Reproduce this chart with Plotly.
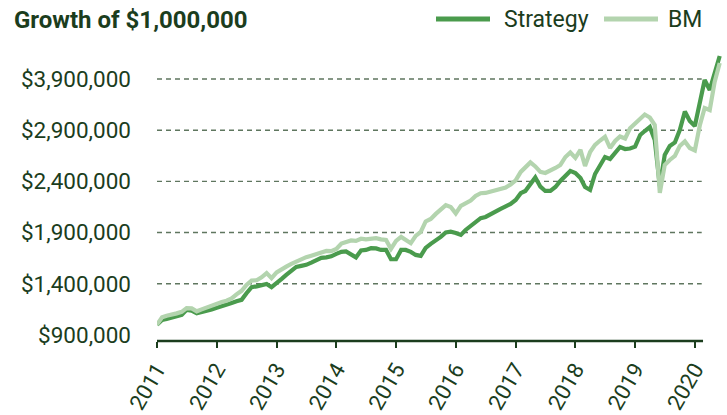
import plotly.graph_objects as go
import pandas as pd

# Monthly observations, Jan 2011 - Jun 2020 (values in $ thousands)
months = pd.date_range("2011-01-01", periods=114, freq="MS").strftime("%Y-%m-%d").tolist()

strategy_k = [
    1000, 1046, 1056, 1071, 1086, 1095, 1144, 1137, 1110, 1120, 1134, 1149,
    1164, 1178, 1188, 1212, 1229, 1242, 1307, 1366, 1374, 1383, 1398, 1366,
    1413, 1447, 1486, 1530, 1564, 1574, 1584, 1606, 1630, 1652, 1657, 1667,
    1691, 1711, 1715, 1681, 1657, 1725, 1730, 1747, 1745, 1730, 1730, 1639,
    1639, 1730, 1730, 1711, 1681, 1672, 1750, 1789, 1818, 1857, 1901, 1909,
    1896, 1877, 1925, 1962, 1999, 2041, 2052, 2082, 2111, 2131, 2155, 2179,
    2218, 2284, 2306, 2375, 2438, 2348, 2306, 2306, 2345, 2404, 2453, 2502,
    2482, 2433, 2345, 2316, 2472, 2550, 2638, 2619, 2677, 2736, 2716, 2721,
    2739, 2853, 2892, 2931, 2804, 2355, 2658, 2746, 2780, 2902, 3083, 2990,
    2941, 3175, 3390, 3293, 3459, 3625,
]

bm_k = [
    1000, 1071, 1086, 1095, 1110, 1125, 1161, 1159, 1130, 1149, 1169, 1188,
    1208, 1222, 1234, 1256, 1296, 1330, 1388, 1430, 1434, 1462, 1503, 1454,
    1510, 1545, 1567, 1593, 1618, 1639, 1659, 1674, 1691, 1701, 1720, 1718,
    1740, 1793, 1811, 1823, 1818, 1839, 1833, 1838, 1844, 1833, 1828, 1740,
    1818, 1857, 1833, 1796, 1867, 1906, 2008, 2033, 2082, 2126, 2168, 2150,
    2087, 2160, 2184, 2212, 2257, 2284, 2287, 2301, 2311, 2326, 2340, 2370,
    2409, 2492, 2536, 2585, 2546, 2492, 2482, 2502, 2531, 2560, 2638, 2682,
    2629, 2707, 2550, 2687, 2756, 2799, 2836, 2726, 2795, 2838, 2819, 2919,
    2970, 3012, 3053, 3024, 2951, 2287, 2560, 2609, 2648, 2746, 2790, 2726,
    2702, 2951, 3117, 3097, 3371, 3556,
]

strategy = [v * 1000 for v in strategy_k]
bm = [v * 1000 for v in bm_k]

year_ticks = [f"{y}-01-01" for y in range(2011, 2021)]
year_labels = [str(y) for y in range(2011, 2021)]

y_tickvals = [900000, 1400000, 1900000, 2400000, 2900000, 3400000]
y_ticktext = ["$900,000", "$1,400,000", "$1,900,000", "$2,400,000", "$2,900,000", "$3,900,000"]

STRAT_COLOR = "#4a9b4d"
BM_COLOR = "#b3d4ae"
TEXT_COLOR = "#1b3d1d"
GRID_COLOR = "#5f765f"
FONT = "Roboto"

W, H = 727, 415
L, R, T, B = 157, 5, 48, 74
PW, PH = W - L - R, H - T - B


def px_x(px):
    return (px - L) / PW


def px_y(py):
    return (H - B - py) / PH


fig = go.Figure()
fig.add_trace(go.Scatter(x=months, y=strategy, mode="lines", name="Strategy",
                         line=dict(color=STRAT_COLOR, width=4.2), showlegend=False))
fig.add_trace(go.Scatter(x=months, y=bm, mode="lines", name="BM",
                         line=dict(color=BM_COLOR, width=4.2), showlegend=False))

shapes = []
grid_end = "2020-02-12"
for v in y_tickvals[1:]:
    shapes.append(dict(type="line", xref="x", yref="y", x0=year_ticks[0], x1=grid_end,
                       y0=v, y1=v, layer="below",
                       line=dict(color=GRID_COLOR, width=1.4, dash="5px,4px")))
# x axis baseline
shapes.append(dict(type="line", xref="x", yref="paper", x0=year_ticks[0], x1="2020-02-20",
                   y0=0, y1=0, line=dict(color=TEXT_COLOR, width=2.5)))

# custom legend
leg_y = px_y(19)
shapes.append(dict(type="line", xref="paper", yref="paper", x0=px_x(436), x1=px_x(490),
                   y0=leg_y, y1=leg_y, line=dict(color=STRAT_COLOR, width=5)))
shapes.append(dict(type="line", xref="paper", yref="paper", x0=px_x(604), x1=px_x(658),
                   y0=leg_y, y1=leg_y, line=dict(color=BM_COLOR, width=5)))

annotations = [
    dict(text="Strategy", xref="paper", yref="paper", x=px_x(502), y=leg_y,
         xanchor="left", yanchor="middle", showarrow=False,
         font=dict(family=FONT, size=23, color=TEXT_COLOR)),
    dict(text="BM", xref="paper", yref="paper", x=px_x(666), y=leg_y,
         xanchor="left", yanchor="middle", showarrow=False,
         font=dict(family=FONT, size=23, color=TEXT_COLOR)),
]

fig.update_layout(
    width=W, height=H,
    margin=dict(l=L, r=R, t=T, b=B),
    paper_bgcolor="white", plot_bgcolor="white",
    title=dict(text="Growth of $1,000,000", xref="container", yref="container",
               x=14 / W, y=1 - 20 / H, xanchor="left", yanchor="middle",
               font=dict(family=FONT, size=24, color=TEXT_COLOR, weight="bold")),
    shapes=shapes,
    annotations=annotations,
    xaxis=dict(type="date", range=["2011-01-01", "2020-06-15"], automargin=False,
               tickmode="array", tickvals=year_ticks, ticktext=year_labels,
               tickangle=-60, ticks="outside", ticklen=6, tickwidth=2,
               tickcolor=TEXT_COLOR, showgrid=False, showline=False, zeroline=False,
               tickfont=dict(family=FONT, size=22, color=TEXT_COLOR)),
    yaxis=dict(range=[840000, 3703000], tickmode="array", automargin=False,
               tickvals=y_tickvals, ticktext=y_ticktext, ticks="",
               showgrid=False, zeroline=False, showline=False,
               ticklabelstandoff=25,
               tickfont=dict(family=FONT, size=22.5, color=TEXT_COLOR)),
    font=dict(family=FONT, color=TEXT_COLOR),
)

fig.write_html("out.html")
